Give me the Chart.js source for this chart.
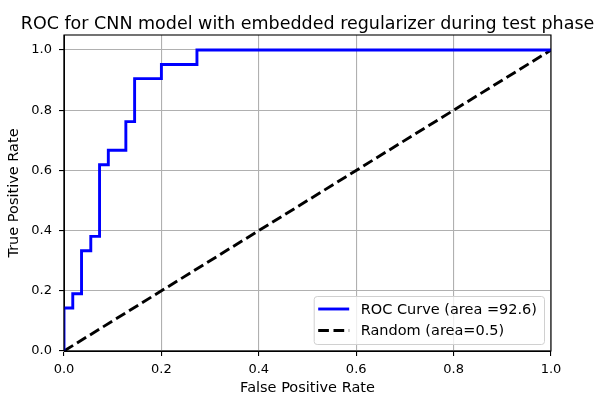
<!DOCTYPE html>
<html>
<head>
<meta charset="utf-8">
<script src="https://cdn.jsdelivr.net/npm/chart.js@4.4.1/dist/chart.umd.min.js"></script>
<style>
  html, body { margin: 0; padding: 0; background: #fff; }
</style>
</head>
<body>
<canvas id="roc" width="597" height="395"></canvas>
<script>
// ROC points (false positive rate / true positive rate)
const fpr = [0, 0, 0.018, 0.018, 0.036, 0.036, 0.055, 0.055, 0.073, 0.073, 0.091, 0.091,
             0.127, 0.127, 0.145, 0.145, 0.2, 0.2, 0.273, 0.273, 1];
const tpr = [0, 0.143, 0.143, 0.190, 0.190, 0.333, 0.333, 0.381, 0.381, 0.619, 0.619, 0.667,
             0.667, 0.762, 0.762, 0.905, 0.905, 0.952, 0.952, 1, 1];
const randomX = [0, 1];
const randomY = [0, 1];
const seriesLabels = ['ROC Curve (area =92.6)', 'Random (area=0.5)'];
const tickValues = [0, 0.2, 0.4, 0.6, 0.8, 1.0];
const titleText = 'ROC for CNN model with embedded regularizer during test phase';

const FONT = "'DejaVu Sans', sans-serif";

// title centred over the axes, like matplotlib
const titlePlugin = {
    id: 'axTitle',
    afterDraw(chart) {
        const { ctx, chartArea: a } = chart;
        ctx.save();
        ctx.font = '17.5px ' + FONT;
        ctx.fillStyle = '#000';
        ctx.textAlign = 'center';
        ctx.textBaseline = 'alphabetic';
        ctx.fillText(titleText, (a.left + a.right) / 2, 28.5);
        ctx.restore();
    }
};

// black frame around the plot area
const framePlugin = {
    id: 'frame',
    afterDatasetsDraw(chart) {
        const { ctx, chartArea: a } = chart;
        ctx.save();
        ctx.strokeStyle = '#000';
        ctx.lineWidth = 1.1;
        ctx.strokeRect(a.left, a.top, a.right - a.left, a.bottom - a.top);
        ctx.restore();
    }
};

// matplotlib-like legend box in lower right
const legendPlugin = {
    id: 'boxLegend',
    afterDraw(chart) {
        const { ctx, chartArea: a } = chart;
        ctx.save();
        ctx.font = '14.5px ' + FONT;
        const labels = chart.data.datasets.map(d => d.label);
        const textW = Math.max(...labels.map(l => ctx.measureText(l).width));
        const w = 47 + textW + 7;
        const h = 48;
        const x = a.right - 7 - w;
        const y = a.bottom - 7 - h;
        ctx.fillStyle = 'rgba(255,255,255,0.8)';
        ctx.strokeStyle = '#d0d0d0';
        ctx.lineWidth = 1;
        ctx.beginPath();
        ctx.roundRect(x + 0.5, y + 0.5, w, h, 3);
        ctx.fill();
        ctx.stroke();
        chart.data.datasets.forEach((d, i) => {
            const ly = y + 13 + i * 21.5;
            ctx.strokeStyle = d.borderColor;
            ctx.lineWidth = d.borderWidth;
            ctx.setLineDash(d.borderDash || []);
            ctx.beginPath();
            ctx.moveTo(x + 4.5, ly);
            ctx.lineTo(x + 35.5, ly);
            ctx.stroke();
            ctx.setLineDash([]);
            ctx.fillStyle = '#000';
            ctx.textBaseline = 'middle';
            ctx.fillText(d.label, x + 47, ly + 1);
        });
        ctx.restore();
    }
};

new Chart(document.getElementById('roc').getContext('2d'), {
    type: 'line',
    data: {
        datasets: [{
            label: seriesLabels[0],
            data: fpr.map((v, i) => ({ x: v, y: tpr[i] })),
            borderColor: '#0000ff',
            borderWidth: 2.9,
            pointRadius: 0,
            fill: false,
            tension: 0
        }, {
            label: seriesLabels[1],
            data: randomX.map((v, i) => ({ x: v, y: randomY[i] })),
            borderColor: '#000000',
            borderWidth: 2.9,
            borderDash: [10.7, 4.6],
            pointRadius: 0,
            fill: false,
            tension: 0
        }]
    },
    options: {
        responsive: false,
        animation: false,
        devicePixelRatio: 1,
        layout: { padding: { left: 0, right: 46, top: 35, bottom: 0 } },
        plugins: {
            legend: { display: false },
            tooltip: { enabled: false },
            title: { display: false }
        },
        scales: {
            x: {
                type: 'linear',
                min: 0,
                max: 1,
                afterBuildTicks: s => { s.ticks = tickValues.map(v => ({ value: v })); },
                afterFit: s => { s.height = 44; },
                ticks: {
                    color: '#000',
                    font: { family: FONT, size: 13 },
                    padding: 6,
                    maxRotation: 0,
                    callback: v => v.toFixed(1)
                },
                grid: { color: '#b0b0b0', lineWidth: 1.1, tickLength: 5, tickColor: '#000' },
                border: { color: '#000' },
                title: {
                    display: true,
                    text: 'False Positive Rate',
                    color: '#000',
                    font: { family: FONT, size: 14.5 },
                    padding: { top: 0, bottom: -2 }
                }
            },
            y: {
                type: 'linear',
                min: 0,
                max: 1.05,
                afterBuildTicks: s => { s.ticks = tickValues.map(v => ({ value: v })); },
                afterFit: s => { s.width = 64; },
                ticks: {
                    color: '#000',
                    font: { family: FONT, size: 13 },
                    padding: 7,
                    callback: v => v.toFixed(1)
                },
                grid: { color: '#b0b0b0', lineWidth: 1.1, tickLength: 5, tickColor: '#000' },
                border: { color: '#000' },
                title: {
                    display: true,
                    text: 'True Positive Rate',
                    color: '#000',
                    font: { family: FONT, size: 14.5 },
                    padding: { top: 5.8, bottom: 0 }
                }
            }
        }
    },
    plugins: [framePlugin, legendPlugin, titlePlugin]
});
</script>
</body>
</html>
